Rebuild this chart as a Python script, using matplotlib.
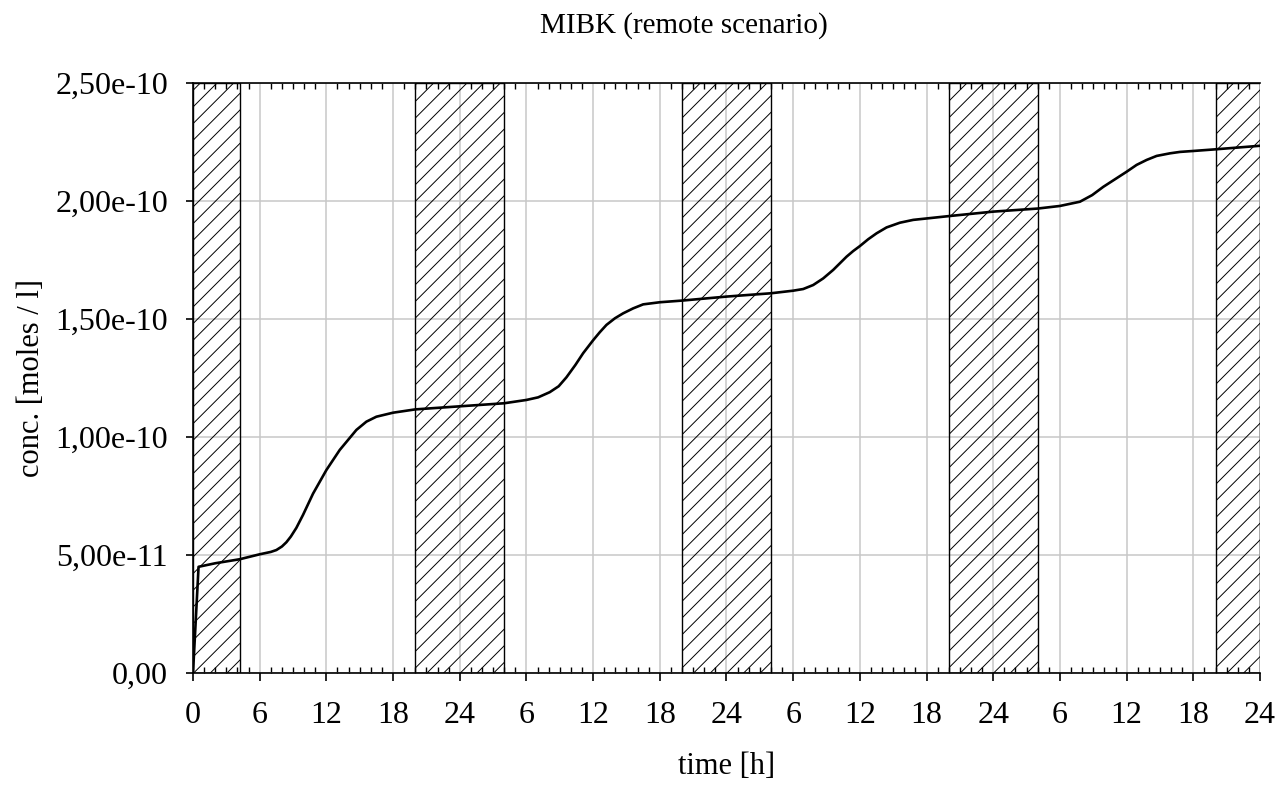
import numpy as np
import matplotlib.pyplot as plt
from matplotlib.ticker import MultipleLocator

# concentration of MIBK (time in h, conc. in 1e-10 moles/l)
time_h = [0, 0.5, 2, 4.2, 6, 7, 7.5, 8.0, 8.4, 8.8, 9.3, 9.9, 10.8, 11.4, 12,
          13.2, 14.7, 15.6, 16.5, 18, 20, 24, 28, 30, 31.05, 32.1, 32.9, 33.6,
          34.4, 35.1, 36, 36.6, 37.2, 37.96, 38.7, 39.6, 40.5, 42, 44, 48, 52,
          54, 54.9, 55.8, 56.7, 57.6, 58.2, 58.8, 59.4, 60, 60.75, 61.5, 62.4,
          63.6, 64.8, 66, 68, 72, 76, 78, 79.8, 80.9, 81.9, 82.95, 84, 84.9,
          85.8, 86.7, 87.9, 88.8, 90, 92, 96]
conc_e10 = [0, 0.45, 0.465, 0.482, 0.503, 0.513, 0.521, 0.536, 0.554, 0.578,
            0.615, 0.67, 0.76, 0.81, 0.86, 0.945, 1.03, 1.065, 1.086, 1.103,
            1.117, 1.13, 1.143, 1.157, 1.168, 1.19, 1.215, 1.253, 1.305,
            1.355, 1.41, 1.444, 1.475, 1.503, 1.524, 1.545, 1.562, 1.571,
            1.578, 1.595, 1.609, 1.62, 1.627, 1.644, 1.672, 1.708, 1.736,
            1.764, 1.788, 1.809, 1.838, 1.863, 1.888, 1.908, 1.92, 1.926,
            1.936, 1.955, 1.968, 1.979, 1.997, 2.025, 2.06, 2.092, 2.124,
            2.153, 2.174, 2.191, 2.202, 2.208, 2.212, 2.219, 2.234]

# night periods (hatched)
night_start = [0, 20, 44, 68, 92]
night_end = [4.2, 28, 52, 76, 96]

x_ticks = list(range(0, 97, 6))
x_labels = ["0", "6", "12", "18", "24", "6", "12", "18", "24",
            "6", "12", "18", "24", "6", "12", "18", "24"]
y_ticks = [0, 0.5e-10, 1.0e-10, 1.5e-10, 2.0e-10, 2.5e-10]
y_labels = ["0,00", "5,00e-11", "1,00e-10", "1,50e-10", "2,00e-10", "2,50e-10"]

plt.rcParams['font.family'] = ['Liberation Serif', 'DejaVu Serif']
plt.rcParams['hatch.linewidth'] = 0.7

fig = plt.figure(figsize=(12.88, 7.90), dpi=100)
ax = fig.add_axes([193 / 1288, 117 / 790, 1067 / 1288, 590 / 790])

for s, e in zip(night_start, night_end):
    ax.axvspan(s, e, facecolor='none', edgecolor='black', hatch='//',
               linewidth=1.0, zorder=2)

ax.plot(time_h, np.array(conc_e10) * 1e-10, color='black', linewidth=1.9,
        zorder=3, solid_joinstyle='round')

ax.set_xlim(0, 96)
ax.set_ylim(0, 2.5e-10)
ax.set_xticks(x_ticks)
ax.set_xticklabels(x_labels)
ax.set_yticks(y_ticks)
ax.set_yticklabels(y_labels)
ax.xaxis.set_minor_locator(MultipleLocator(1))

ax.grid(True, which='major', color='#c8c8c8', linewidth=1.1, zorder=0)
ax.set_axisbelow(True)

ax.tick_params(axis='x', which='major', direction='out', length=6, width=1.2,
               labelsize=23, pad=14, top=False)
ax.tick_params(axis='x', which='minor', direction='in', length=4, width=1.0,
               top=True, bottom=True)
ax.tick_params(axis='y', which='major', direction='out', length=5, width=1.2,
               labelsize=23, pad=13)

for side in ['left', 'bottom', 'top']:
    ax.spines[side].set_linewidth(1.2)
ax.spines['right'].set_visible(False)

ax.set_xlabel('time [h]', fontsize=22, labelpad=16)
ax.set_ylabel('conc. [moles / l]', fontsize=22, labelpad=7)
fig.text(684 / 1288, 1 - 33 / 790, 'MIBK (remote scenario)', fontsize=21,
         ha='center', va='baseline')

fig.savefig('out.png', dpi=100)
